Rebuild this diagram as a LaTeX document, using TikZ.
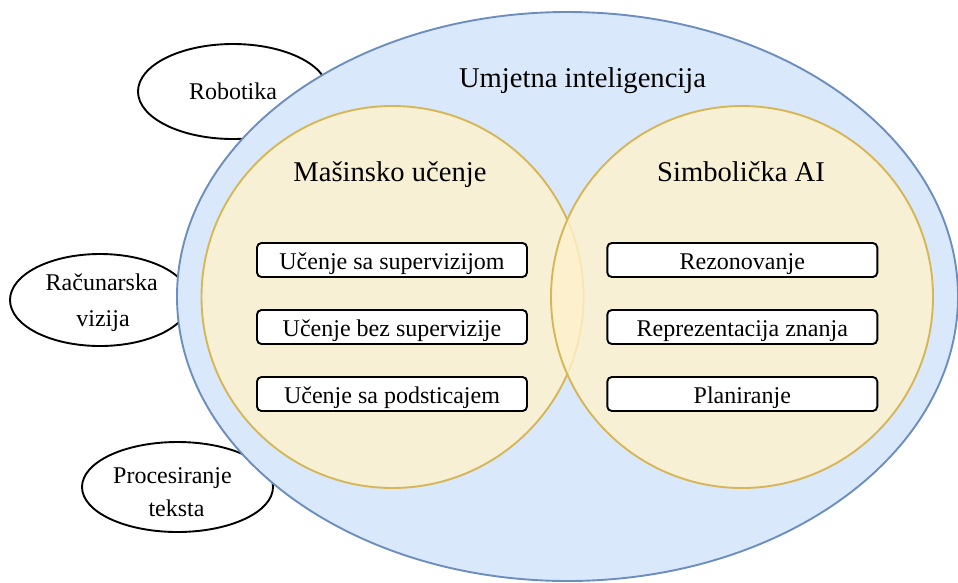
\documentclass[tikz,border=0pt]{standalone}
\usepackage{fontspec}
\setmainfont{Liberation Serif}
\usetikzlibrary{shapes.geometric}
\definecolor{aiblue}{HTML}{DAE8FC}
\definecolor{aiblueline}{HTML}{6C8EBF}
\definecolor{mlyellow}{HTML}{FFF2CC}
\definecolor{mlline}{HTML}{D6B656}
\begin{document}
\begin{tikzpicture}[x=1pt,y=-1pt,
  sidefield/.style={ellipse, draw=black, fill=white, line width=1.9pt, inner sep=0pt},
  bigfield/.style={ellipse, draw=aiblueline, fill=aiblue, line width=1.9pt, inner sep=0pt},
  subfield/.style={circle, draw=mlline, fill=mlyellow, fill opacity=0.8, line width=1.9pt, inner sep=0pt, minimum size=382pt},
  topicbox/.style={rectangle, rounded corners=4.5pt, draw=black, fill=white, line width=1.9pt,
    minimum width=270pt, minimum height=34pt, inner sep=0pt, text height=20pt, text depth=1pt,
    font=\fontsize{24pt}{28pt}\selectfont},
  smalltxt/.style={anchor=base, inner sep=0pt, font=\fontsize{24pt}{28pt}\selectfont},
  bigtxt/.style={anchor=base, inner sep=0pt, font=\fontsize{28.6pt}{34pt}\selectfont}]
\useasboundingbox (0,0) rectangle (958,582);
% side fields
\node[sidefield, minimum width=190pt, minimum height=95pt] (rob) at (233,91.5) {};
\node[sidefield, minimum width=180pt, minimum height=92pt] (cv) at (100,300) {};
\node[sidefield, minimum width=191pt, minimum height=90pt] (nlp) at (177.5,487) {};
% AI ellipse
\node[bigfield, minimum width=781pt, minimum height=569pt] (ai) at (567.5,296.5) {};
% sub fields
\node[subfield] (ml) at (392.5,297) {};
\node[subfield] (sym) at (742,297) {};
% boxes
\node[topicbox] (m1) at (392,260) {Učenje sa supervizijom};
\node[topicbox] (m2) at (392,327) {Učenje bez supervizije};
\node[topicbox] (m3) at (392,394) {Učenje sa podsticajem};
\node[topicbox] (s1) at (742.3,260) {Rezonovanje};
\node[topicbox] (s2) at (742.3,327) {Reprezentacija znanja};
\node[topicbox] (s3) at (742.3,394) {Planiranje};
% labels
\node[bigtxt] (ait) at (582.5,87.3) {Umjetna inteligencija};
\node[bigtxt] (mlt) at (390,181) {Mašinsko učenje};
\node[bigtxt] (symt) at (741,181) {Simbolička AI};
\node[smalltxt] (robt) at (233,99.3) {Robotika};
\node[smalltxt] (cvt1) at (101.7,290) {Računarska};
\node[smalltxt] (cvt2) at (103,326) {vizija};
\node[smalltxt] (nlpt1) at (172.5,483.3) {Procesiranje};
\node[smalltxt] (nlpt2) at (176.5,516.7) {teksta};
\end{tikzpicture}
\end{document}
